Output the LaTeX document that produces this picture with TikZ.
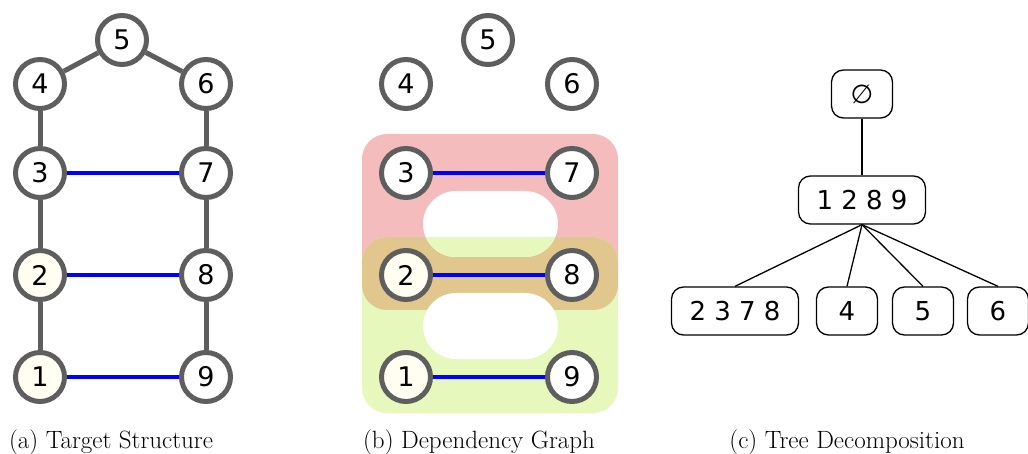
\documentclass[tikz,border=0pt]{standalone}
\usepackage{fontspec}
\usepackage{xcolor}
\usetikzlibrary{positioning}
\newfontfamily\numfont{DejaVu Sans}
\definecolor{edgegray}{HTML}{5E5E5E}
\definecolor{srcfill}{HTML}{FFFEF0}
\definecolor{topzone}{HTML}{F4BCBC}
\definecolor{botzone}{HTML}{E6F8BC}
\definecolor{midzone}{HTML}{E1C68E}

\begin{document}
\begin{tikzpicture}[x=1pt, y=-1pt,
    vert/.style={circle, draw=edgegray, line width=5pt, fill=white,
        minimum size=49pt, inner sep=0pt, font=\numfont\fontsize{27}{27}\selectfont},
    src/.style={vert, fill=srcfill},
    gedge/.style={draw=edgegray, line width=5pt},
    bedge/.style={draw=blue, line width=4.5pt},
    zone/.style={rounded corners=25pt},
    hole/.style={rounded corners=33pt},
    tnode/.style={draw, rounded corners=12pt, line width=1.3pt, minimum height=48pt,
        minimum width=61pt, inner xsep=18pt, font=\numfont\fontsize{26}{26}\selectfont},
    tedge/.style={draw, line width=1.3pt},
    subcap/.style={anchor=base, font=\fontsize{25}{25}\selectfont}]
    \useasboundingbox (0,0) rectangle (1028,454);
    % Dependency zones
    \fill[topzone, zone] (362,134) rectangle (618,310);
    \fill[botzone, zone] (362,237) rectangle (618,413);
    \begin{scope}
        \clip[zone] (362,134) rectangle (618,310);
        \fill[midzone, zone] (362,237) rectangle (618,413);
    \end{scope}
    \fill[white, hole] (423,191) rectangle (558,257);
    \begin{scope}
        \clip[zone] (362,237) rectangle (618,413);
        \fill[botzone, hole] (423,191) rectangle (558,257);
    \end{scope}
    \fill[white, hole] (423,293) rectangle (558,359);
    % Vertices
    \foreach \p/\dx in {a/0, b/366} {
        \node[vert] (\p5) at (122+\dx,40) {5};
        \node[vert] (\p4) at (40+\dx,84) {4};
        \node[vert] (\p6) at (206+\dx,84) {6};
        \node[vert] (\p3) at (40+\dx,173) {3};
        \node[vert] (\p7) at (206+\dx,173) {7};
        \node[src] (\p2) at (40+\dx,275) {2};
        \node[vert] (\p8) at (206+\dx,275) {8};
        \node[src] (\p1) at (40+\dx,377) {1};
        \node[vert] (\p9) at (206+\dx,377) {9};
        % Pairs
        \draw[bedge] (\p3) -- (\p7);
        \draw[bedge] (\p2) -- (\p8);
        \draw[bedge] (\p1) -- (\p9);
    }
    % Backbone
    \draw[gedge] (a4) -- (a5) -- (a6);
    \draw[gedge] (a4) -- (a3) -- (a2) -- (a1);
    \draw[gedge] (a6) -- (a7) -- (a8) -- (a9);
    % Tree
    \node[tnode] (t0) at (862,94) {∅};
    \node[tnode] (t1289) at (862,200) {1 2 8 9};
    \node[tnode] (t2378) at (735,311) {2 3 7 8};
    \node[tnode] (t4) at (847,311) {4};
    \node[tnode] (t5) at (923,311) {5};
    \node[tnode] (t6) at (998,311) {6};
    \draw[tedge] (t0) -- (t1289);
    \foreach \c in {t2378, t4, t5, t6}
        \draw[tedge] (t1289.south) -- (\c.north);
    % Captions
    \node[subcap] (capa) at (111,448) {(a) Target Structure};
    \node[subcap] (capb) at (479,448) {(b) Dependency Graph};
    \node[subcap] (capc) at (847,448) {(c) Tree Decomposition};
\end{tikzpicture}
\end{document}
